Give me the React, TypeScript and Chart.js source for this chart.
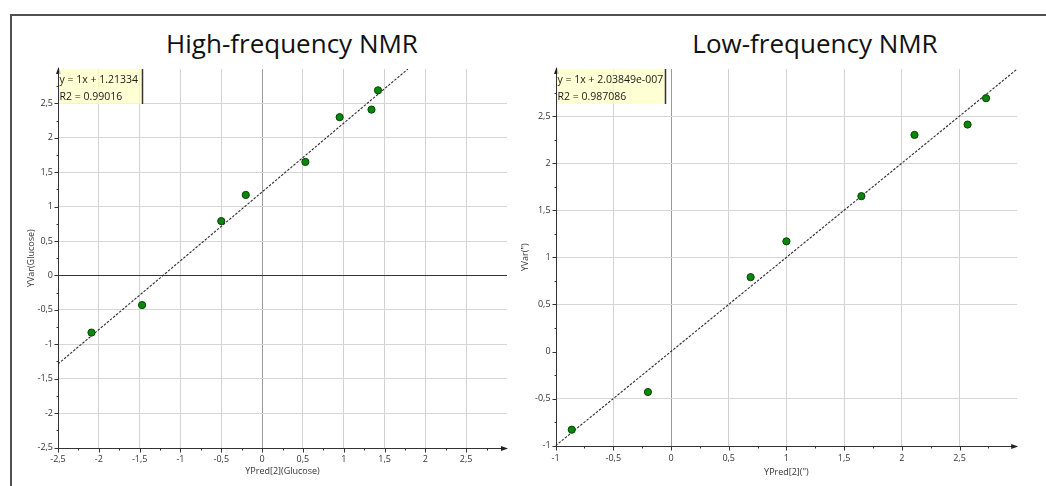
import React, { useEffect, useRef } from 'react';
import { Chart, registerables } from 'chart.js';

Chart.register(...registerables);

// ---------- data ----------
const yVar = [-0.83, -0.43, 0.79, 1.17, 1.65, 2.3, 2.41, 2.69];
const hfPred = [-2.09, -1.47, -0.5, -0.2, 0.53, 0.95, 1.34, 1.42];
const lfPred = [-0.86, -0.2, 0.69, 1.0, 1.65, 2.11, 2.57, 2.73];

const hfTicks = [-2.5, -2, -1.5, -1, -0.5, 0, 0.5, 1, 1.5, 2, 2.5];
const lfTicks = [-1, -0.5, 0, 0.5, 1, 1.5, 2, 2.5];

const hfFit = { slope: 1, intercept: 1.21334 };
const lfFit = { slope: 1, intercept: 2.03849e-7 };

const hfLegend = ['y = 1x + 1.21334', 'R2 = 0.99016'];
const lfLegend = ['y = 1x + 2.03849e-007', 'R2 = 0.987086'];

const chartTitles = ['High-frequency NMR', 'Low-frequency NMR'];
const xTitles = ['YPred[2](Glucose)', 'YPred[2](")'];
const yTitles = ['YVar(Glucose)', 'YVar(")'];

// ---------- layout (not data) ----------
const panels = [
  {
    key: 'hf', x: hfPred, y: yVar, ticks: hfTicks, fit: hfFit, legend: hfLegend,
    title: chartTitles[0], xTitle: xTitles[0], yTitle: yTitles[0],
    min: -2.5, max: 3,
    left: 10, top: 14, width: 510, height: 472,
    yAxisW: 48, xAxisH: 38.5, padRight: 13, padTop: 55,
    yTitlePad: 16, xTitlePad: 9, zeroH: '#333333', legendW: 84,
    titleCenter: 292,
  },
  {
    key: 'lf', x: lfPred, y: yVar, ticks: lfTicks, fit: lfFit, legend: lfLegend,
    title: chartTitles[1], xTitle: xTitles[1], yTitle: yTitles[1],
    min: -1, max: 3,
    left: 515, top: 14, width: 531, height: 472,
    yAxisW: 40.6, xAxisH: 40.3, padRight: 28.8, padTop: 55,
    yTitlePad: 5, xTitlePad: 8, zeroH: 'rgba(0,0,0,0)', legendW: 109,
    titleCenter: 815,
  },
];

const fmt = (v: number) => String(v).replace('.', ',');
const FONT = '"Open Sans", "Noto Sans", sans-serif';

function Panel({ p }: { p: any }) {
  const ref = useRef<HTMLCanvasElement>(null);
  useEffect(() => {
    if (!ref.current) return;
    const isMajor = (v: number) => Math.abs(v * 2 - Math.round(v * 2)) < 1e-9;
    const b = p.fit.intercept;
    const s = p.fit.slope;
    const xEnd = Math.min(p.max, (p.max - b) / s);
    const lineData = [
      { x: p.min, y: s * p.min + b },
      { x: xEnd, y: s * xEnd + b },
    ];

    const decor = {
      id: 'decor',
      beforeDatasetsDraw(chart: any) {
        const { ctx, chartArea: a, scales } = chart;
        const xs = scales.x, ys = scales.y;
        ctx.save();
        const x0 = Math.round(a.left) + 0.5;
        const y0 = Math.round(a.bottom) + 0.5;
        ctx.strokeStyle = '#333';
        ctx.lineWidth = 1;
        ctx.beginPath();
        ctx.moveTo(x0, y0);
        ctx.lineTo(x0, a.top - 1);
        ctx.moveTo(x0, y0);
        ctx.lineTo(a.right - 1, y0);
        const n = Math.round((p.max - p.min) / 0.25);
        for (let i = 0; i < n; i++) {
          const v = p.min + i * 0.25;
          const len = isMajor(v) ? 4 : 2;
          const px = Math.round(xs.getPixelForValue(v)) + 0.5;
          ctx.moveTo(px, y0);
          ctx.lineTo(px, y0 + len);
          const py = Math.round(ys.getPixelForValue(v)) + 0.5;
          ctx.moveTo(x0, py);
          ctx.lineTo(x0 - len, py);
        }
        ctx.stroke();
        ctx.fillStyle = '#222';
        ctx.beginPath();
        ctx.moveTo(x0, a.top - 2);
        ctx.lineTo(x0 - 2.5, a.top + 5);
        ctx.lineTo(x0 + 2.5, a.top + 5);
        ctx.closePath();
        ctx.fill();
        ctx.beginPath();
        ctx.moveTo(a.right + 1, y0);
        ctx.lineTo(a.right - 6, y0 - 2.5);
        ctx.lineTo(a.right - 6, y0 + 2.5);
        ctx.closePath();
        ctx.fill();
        ctx.restore();
      },
      afterDraw(chart: any) {
        const { ctx, chartArea: a } = chart;
        const L = Math.round(a.left) + 1;
        const T = Math.round(a.top);
        ctx.save();
        ctx.fillStyle = 'rgba(255,255,195,0.72)';
        ctx.fillRect(L, T, p.legendW - 1, 35);
        ctx.strokeStyle = '#333';
        ctx.lineWidth = 1.5;
        ctx.beginPath();
        ctx.moveTo(L + p.legendW - 0.5, T);
        ctx.lineTo(L + p.legendW - 0.5, T + 35);
        ctx.stroke();
        ctx.font = `10.5px ${FONT}`;
        ctx.fillStyle = '#1a1a1a';
        ctx.textBaseline = 'alphabetic';
        ctx.textAlign = 'left';
        ctx.fillText(p.legend[0], L + 0.5, T + 14);
        ctx.fillText(p.legend[1], L + 0.5, T + 30.5);
        ctx.restore();
      },
    };

    const gridX = (v: number | undefined) => {
      if (v === undefined) return 'rgba(0,0,0,0)';
      if (Math.abs(v - p.min) < 1e-9) return 'rgba(0,0,0,0)';
      if (Math.abs(v) < 1e-9) return '#9a9a9a';
      return '#d2d2d2';
    };
    const gridY = (v: number | undefined) => {
      if (v === undefined) return 'rgba(0,0,0,0)';
      if (Math.abs(v - p.min) < 1e-9) return 'rgba(0,0,0,0)';
      if (Math.abs(v) < 1e-9) return p.zeroH;
      return '#d6d6d6';
    };

    const tickFont = { family: FONT, size: 9 };
    const chart = new Chart(ref.current, {
      type: 'scatter',
      data: {
        datasets: [
          {
            data: p.x.map((xv: number, i: number) => ({ x: xv, y: p.y[i] })),
            backgroundColor: '#0a860a',
            borderColor: '#064506',
            borderWidth: 1,
            pointRadius: 3.6,
            pointHoverRadius: 3.6,
          },
          {
            data: lineData,
            showLine: true,
            borderColor: '#2a2a2a',
            borderWidth: 1.1,
            borderDash: [2.5, 1.5],
            pointRadius: 0,
            fill: false,
          } as any,
        ],
      },
      options: {
        animation: false,
        responsive: false,
        devicePixelRatio: 1,
        events: [],
        layout: { padding: { left: 0, top: p.padTop, right: p.padRight, bottom: 0 } },
        plugins: { legend: { display: false }, tooltip: { enabled: false }, title: { display: false } },
        scales: {
          x: {
            type: 'linear',
            position: 'bottom',
            min: p.min,
            max: p.max,
            afterBuildTicks: (sc: any) => { sc.ticks = p.ticks.map((v: number) => ({ value: v })); },
            afterFit: (sc: any) => { sc.height = p.xAxisH; },
            ticks: {
              padding: 7, font: tickFont, color: '#333', autoSkip: false, maxRotation: 0,
              callback: (v: any) => fmt(Number(v)),
            },
            grid: { drawTicks: false, lineWidth: 1, color: (c: any) => gridX(c.tick?.value) },
            border: { display: false },
            title: {
              display: true, text: p.xTitle, color: '#333', font: tickFont,
              padding: { top: 0, bottom: p.xTitlePad },
            },
          },
          y: {
            type: 'linear',
            position: 'left',
            min: p.min,
            max: p.max,
            afterBuildTicks: (sc: any) => { sc.ticks = p.ticks.map((v: number) => ({ value: v })); },
            afterFit: (sc: any) => { sc.width = p.yAxisW; },
            ticks: {
              padding: 5, font: tickFont, color: '#333', autoSkip: false,
              callback: (v: any) => fmt(Number(v)),
            },
            grid: { drawTicks: false, lineWidth: 1, color: (c: any) => gridY(c.tick?.value) },
            border: { display: false },
            title: {
              display: true, text: p.yTitle, color: '#333', font: tickFont,
              padding: { top: p.yTitlePad, bottom: 0 },
            },
          },
        },
      } as any,
      plugins: [decor],
    });
    return () => chart.destroy();
  }, [p]);

  return (
    <>
      <div
        style={{
          position: 'absolute', left: p.titleCenter - 250, top: 28, width: 500,
          textAlign: 'center', font: `26px ${FONT}`, lineHeight: '30px', color: '#111',
          whiteSpace: 'nowrap',
        }}
      >
        {p.title}
      </div>
      <canvas
        ref={ref}
        width={p.width}
        height={p.height}
        style={{ position: 'absolute', left: p.left, top: p.top, width: p.width, height: p.height }}
      />
    </>
  );
}

export default function App() {
  return (
    <div
      style={{
        position: 'absolute', left: 0, top: 0, width: 1046, height: 486,
        overflow: 'hidden', background: '#fff',
      }}
    >
      <div
        style={{
          position: 'absolute', left: 10, top: 14, width: 1200, height: 700,
          borderLeft: '2px solid #505050', borderTop: '2px solid #505050',
        }}
      />
      {panels.map((p) => (
        <Panel key={p.key} p={p} />
      ))}
    </div>
  );
}
